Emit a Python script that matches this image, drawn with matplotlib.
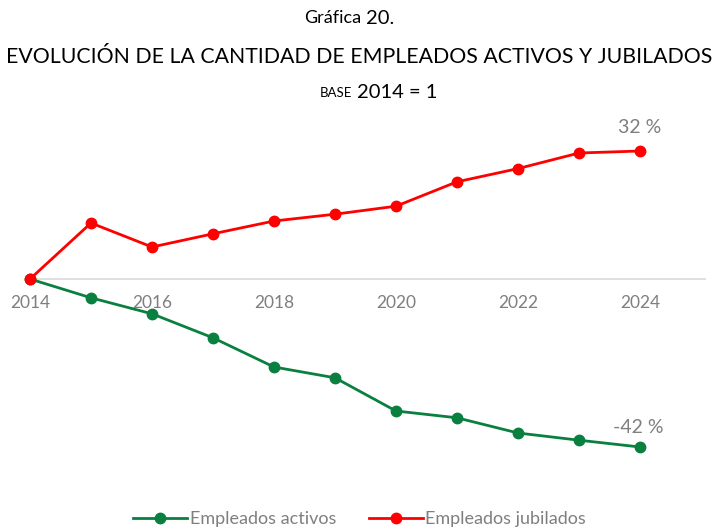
"""
Evolución de empleados activos y jubilados, base 2014 = 1.
"""

import matplotlib

matplotlib.use("Agg")
import matplotlib.pyplot as plt

plt.rcParams["font.family"] = ["Lato", "DejaVu Sans"]

YEARS = list(range(2014, 2025))
ACTIVOS = [0.0, -4.7, -8.7, -14.7, -22.0, -24.7, -33.0, -34.7, -38.5, -40.3, -42.0]
JUBILADOS = [0.0, 14.0, 8.0, 11.3, 14.5, 16.2, 18.2, 24.3, 27.6, 31.5, 32.0]
XTICKS = [2014, 2016, 2018, 2020, 2022, 2024]
LABEL_ACTIVOS = "-42 %"
LABEL_JUBILADOS = "32 %"

GREEN = "#0a8040"
RED = "#ff0000"
GRAY = "#7f7f7f"

W, H = 719, 527


def fy(px):
    return 1 - px / H


def main() -> None:
    fig = plt.figure(figsize=(W / 100, H / 100), dpi=100)

    # title block
    fig.text(0.503, fy(18), "Gráfica", ha="right", va="center", fontsize=13)
    fig.text(0.509, fy(18), "20.", ha="left", va="center", fontsize=14.5)
    fig.text(0.5, fy(57), "EVOLUCIÓN DE LA CANTIDAD DE EMPLEADOS ACTIVOS Y JUBILADOS",
             ha="center", va="center", fontsize=15.3)
    fig.text(0.490, fy(93), "BASE", ha="right", va="center", fontsize=9.5)
    fig.text(0.496, fy(92), "2014 = 1", ha="left", va="center", fontsize=14.5)

    top, bottom = 120, 480
    left, right = 30, 706
    ax = fig.add_axes([left / W, fy(bottom), (right - left) / W, (bottom - top) / H])
    ppu = 4.0
    ax.set_ylim(-(bottom - 279) / ppu, (279 - top) / ppu)
    ax.set_xlim(2014, 2014 + (right - left) / 61)

    ax.plot(YEARS, ACTIVOS, color=GREEN, lw=2.0, marker="o", ms=7.5,
            label="Empleados activos", clip_on=False, zorder=3)
    ax.plot(YEARS, JUBILADOS, color=RED, lw=2.0, marker="o", ms=7.5,
            label="Empleados jubilados", clip_on=False, zorder=4)
    ax.axhline(0, color="#d9d9d9", lw=1.2, zorder=1)

    ax.annotate(LABEL_JUBILADOS, (YEARS[-1], JUBILADOS[-1]), xytext=(0, 17),
                textcoords="offset points", ha="center", va="center",
                fontsize=14, color=GRAY)
    ax.annotate(LABEL_ACTIVOS, (YEARS[-1], ACTIVOS[-1]), xytext=(-1, 14),
                textcoords="offset points", ha="center", va="center",
                fontsize=14, color=GRAY)

    for s in ax.spines.values():
        s.set_visible(False)
    ax.set_yticks([])
    ax.set_xticks([])
    # year labels sit just under the zero line
    for x in XTICKS:
        ax.text(x, -3.9, str(x), ha="center", va="top", fontsize=12.5, color=GRAY)

    fig.legend(loc="center", bbox_to_anchor=(0.5, fy(519)), ncol=2, frameon=False,
               fontsize=13, labelcolor=GRAY, handlelength=3.0, columnspacing=1.8,
               handletextpad=0.15)

    fig.savefig("out.png", dpi=100)
    plt.close(fig)


if __name__ == "__main__":
    main()
